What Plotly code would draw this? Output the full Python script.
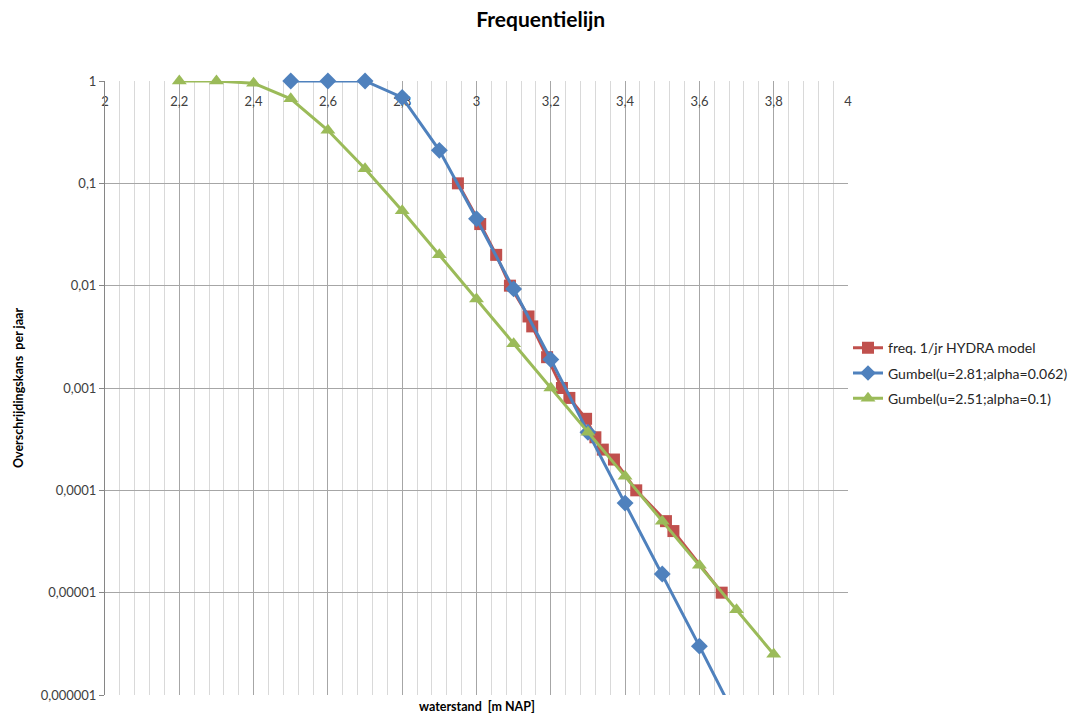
import plotly.graph_objects as go

# ---- data ----
hydra_x = [2.95, 3.01, 3.053, 3.09, 3.14, 3.15, 3.19, 3.23, 3.25, 3.295, 3.32, 3.34, 3.37, 3.43, 3.51, 3.53, 3.66]
hydra_y = [0.1, 0.04, 0.02, 0.01, 0.005, 0.004, 0.002, 0.001, 0.0008, 0.0005, 0.00033, 0.00025, 0.0002, 0.0001, 0.00005, 0.00004, 0.00001]

gumbel1_x = [2.5, 2.6, 2.7, 2.8, 2.9, 3.0, 3.1, 3.2, 3.3, 3.4, 3.5, 3.6, 3.7]
gumbel1_y = [1.0, 1.0, 0.9999, 0.69, 0.21, 0.045, 0.0093, 0.0019, 0.00037, 0.000075, 0.0000152, 0.0000030, 0.00000058]

gumbel2_x = [2.2, 2.3, 2.4, 2.5, 2.6, 2.7, 2.8, 2.9, 3.0, 3.1, 3.2, 3.3, 3.4, 3.5, 3.6, 3.7, 3.8]
gumbel2_y = [1.0, 0.9997, 0.95, 0.67, 0.33, 0.139, 0.054, 0.020, 0.0074, 0.0027, 0.0010, 0.00037, 0.000137, 0.000050, 0.0000185, 0.0000068, 0.0000025]

x_tickvals = [2.0, 2.2, 2.4, 2.6, 2.8, 3.0, 3.2, 3.4, 3.6, 3.8, 4.0]
x_ticktext = ["2", "2,2", "2,4", "2,6", "2,8", "3", "3,2", "3,4", "3,6", "3,8", "4"]
y_tickvals = [1, 0.1, 0.01, 0.001, 0.0001, 0.00001, 0.000001]
y_ticktext = ["1", "0,1", "0,01", "0,001", "0,0001", "0,00001", "0,000001"]

names = ["freq. 1/jr HYDRA model", "Gumbel(u=2.81;alpha=0.062)", "Gumbel(u=2.51;alpha=0.1)"]

FONT = "Lato"
RED, BLUE, GREEN = "#C0504D", "#4F81BD", "#9BBB59"
Y_MIN = 1e-6

def sizes(ys, s):
    return [s if v >= Y_MIN else 0 for v in ys]

fig = go.Figure()
fig.add_trace(go.Scatter(x=hydra_x, y=hydra_y, mode="lines+markers", name=names[0], legendgroup="a",
                         line=dict(color=RED, width=3),
                         marker=dict(symbol="square", size=sizes(hydra_y, 12), color=RED, opacity=1,
                                     line=dict(width=0)),
                         cliponaxis=False))
fig.add_trace(go.Scatter(x=gumbel1_x, y=gumbel1_y, mode="lines+markers", name=names[1], legendgroup="b",
                         line=dict(color=BLUE, width=3),
                         marker=dict(symbol="diamond", size=sizes(gumbel1_y, 13), color=BLUE, opacity=1,
                                     line=dict(width=0)),
                         cliponaxis=False))
fig.add_trace(go.Scatter(x=gumbel2_x, y=gumbel2_y, mode="lines+markers", name=names[2], legendgroup="c",
                         line=dict(color=GREEN, width=3),
                         marker=dict(symbol="triangle-up", size=sizes(gumbel2_y, 13), color=GREEN, opacity=1,
                                     line=dict(width=0)),
                         cliponaxis=False))

fig.update_layout(
    width=1075, height=715,
    margin=dict(l=105, r=227, t=81, b=20, autoexpand=False),
    paper_bgcolor="white", plot_bgcolor="white",
    font=dict(family=FONT, size=13, color="#404040"),
    title=dict(text="<b>Frequentielijn</b>", x=0.503, xref="container", y=0.972, yref="container",
               yanchor="middle", xanchor="center", font=dict(size=21, color="black", family=FONT)),
    showlegend=True,
    legend=dict(x=1.0, xanchor="left", y=0.524, yanchor="middle", font=dict(size=14, color="#262626"),
                tracegroupgap=4, bgcolor="rgba(0,0,0,0)"),
    xaxis=dict(range=[2, 4], side="top", tickvals=x_tickvals, ticktext=x_ticktext, automargin=False,
               ticklabelposition="inside", ticklabeloverflow="allow", layer="below traces",
               ticks="inside", ticklen=16, tickcolor="rgba(0,0,0,0)",
               showgrid=True, gridcolor="#A6A6A6", gridwidth=1, zeroline=False, showline=False,
               tickfont=dict(size=13, color="#404040"),
               minor=dict(dtick=0.04, tick0=2, showgrid=True, gridcolor="#D9D9D9", gridwidth=1)),
    yaxis=dict(type="log", range=[-6, 0], tickvals=y_tickvals, ticktext=y_ticktext, automargin=False,
               showgrid=True, gridcolor="#A6A6A6", gridwidth=1, zeroline=False,
               showline=True, linecolor="#868686", linewidth=1,
               ticks="outside", ticklen=5, tickcolor="#868686",
               tickfont=dict(size=13, color="#404040")),
    annotations=[
        dict(text="<b>waterstand  [m NAP]</b>", xref="paper", yref="paper", x=0.5, y=-0.018,
             xanchor="center", yanchor="middle", showarrow=False, font=dict(size=12.5, color="black")),
        dict(text="<b>Overschrijdingskans  per jaar</b>", xref="paper", yref="paper", x=-0.117, y=0.5,
             textangle=-90, xanchor="center", yanchor="middle", showarrow=False,
             font=dict(size=12.5, color="black")),
    ],
)

fig.write_html("out.html", config={"displayModeBar": False},
               post_script="document.body.style.margin='0';")
